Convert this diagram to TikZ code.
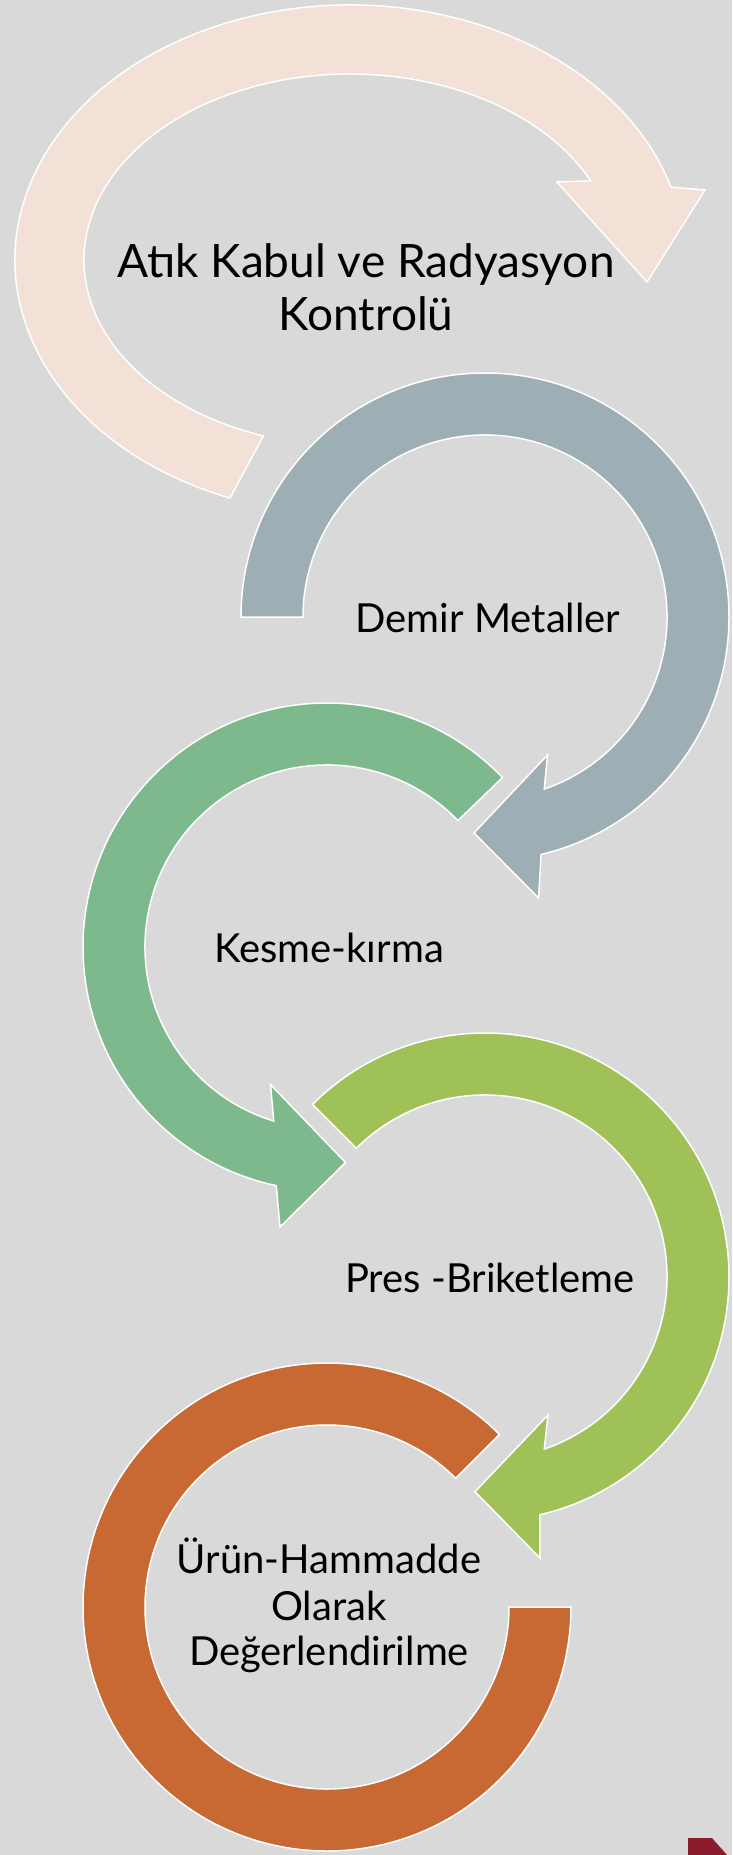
\documentclass[tikz,border=0pt]{standalone}
\usepackage{fontspec}
\setmainfont{Lato}
\usepackage{xcolor}
\definecolor{bgGray}{RGB}{217,217,217}
\definecolor{ringPeach}{RGB}{243,224,214}
\definecolor{ringSteel}{RGB}{157,174,180}
\definecolor{ringGreen}{RGB}{125,185,141}
\definecolor{ringLime}{RGB}{160,192,88}
\definecolor{ringOrange}{RGB}{200,104,50}
\definecolor{cornerRed}{RGB}{140,28,44}

\begin{document}
\begin{tikzpicture}[x=1pt,y=-1pt]
\tikzset{RingStyle/.style={draw=white,line width=1.5pt,line join=miter}}
\tikzset{LabelStyle/.style={anchor=base,inner sep=0pt,text=black,font=\fontsize{40}{46}\selectfont}}
\tikzset{BigLabelStyle/.style={LabelStyle,font=\fontsize{46}{53}\selectfont}}
\fill[bgGray] (0,0) rectangle (732,1855);
\useasboundingbox (0,0) rectangle (732,1855);
\coordinate (c1) at (350,260);
\coordinate (c2) at (485,617);
\coordinate (c3) at (327,947);
\coordinate (c4) at (485,1277);
\coordinate (c5) at (327,1607);
\filldraw[RingStyle,fill=ringPeach] ([shift={(c1)}]111:335 and 255) arc[start angle=111,end angle=343.4,x radius=335,y radius=255]
  -- (705,190) -- (647,282) -- (557,182)
  -- ([shift={(c1)}]334.8:266 and 186) arc[start angle=334.8,end angle=109,x radius=266,y radius=186] -- cycle;
\filldraw[RingStyle,fill=ringSteel] ([shift={(c2)}]180:244) arc[start angle=180,end angle=436.7,radius=244]
  -- (538.6,898) -- (474,833) -- (547.5,755)
  -- ([shift={(c2)}]431:182) arc[start angle=431,end angle=180,radius=182] -- cycle;
\filldraw[RingStyle,fill=ringGreen] ([shift={(c3)}]316:244) arc[start angle=316,end angle=102,radius=244]
  -- (280,1227) -- (345.5,1162.5) -- (270.5,1084.5)
  -- ([shift={(c3)}]107:182) arc[start angle=107,end angle=316,radius=182] -- cycle;
\filldraw[RingStyle,fill=ringLime] ([shift={(c4)}]225:244) arc[start angle=225,end angle=437,radius=244]
  -- (540,1558) -- (475,1491.7) -- (548,1415)
  -- ([shift={(c4)}]431:182) arc[start angle=431,end angle=225,radius=182] -- cycle;
\filldraw[RingStyle,fill=ringOrange] ([shift={(c5)}]315:244) arc[start angle=315,end angle=0,radius=244]
  -- ([shift={(c5)}]0:182) arc[start angle=0,end angle=315,radius=182] -- cycle;
\fill[cornerRed] (688,1838) -- (712,1838) -- (727,1855) -- (688,1855) -- cycle;
\node[BigLabelStyle] (atik) at (366,277) {Atık Kabul ve Radyasyon};
\node[BigLabelStyle] (kontrol) at (366,330) {Kontrolü};
\node[LabelStyle] (demir) at (488,632) {Demir Metaller};
\node[LabelStyle] (kesme) at (329,962) {Kesme-kırma};
\node[LabelStyle] (pres) at (490,1292) {Pres -Briketleme};
\node[LabelStyle] (urun) at (329,1573) {Ürün-Hammadde};
\node[LabelStyle] (olarak) at (329,1620) {Olarak};
\node[LabelStyle] (deger) at (329,1665) {Değerlendirilme};
\end{tikzpicture}
\end{document}
